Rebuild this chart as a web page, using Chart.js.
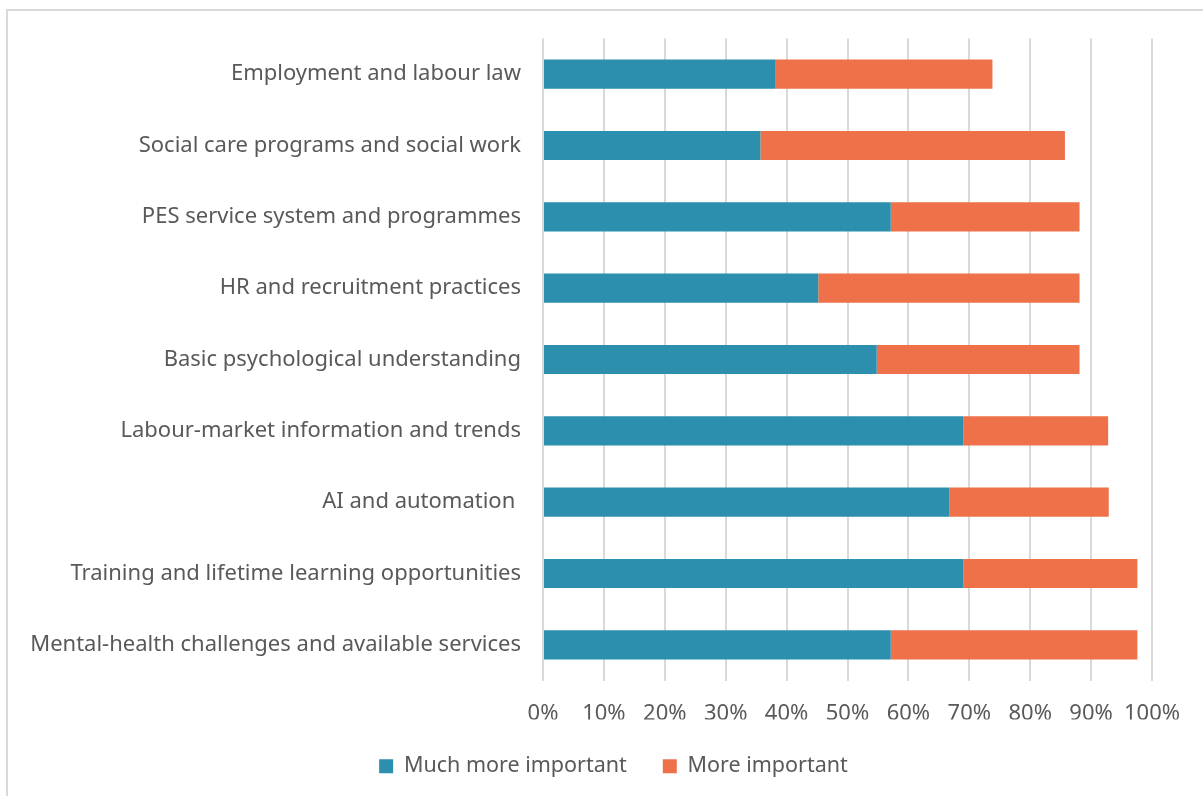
<!DOCTYPE html>
<html>
<head>
<meta charset="utf-8">
<script src="https://cdn.jsdelivr.net/npm/chart.js@4.4.1/dist/chart.umd.min.js"></script>
<style>
  html, body { margin: 0; padding: 0; background: #fff; overflow: hidden; }
  .frame {
    position: absolute; left: 6px; top: 9px;
    width: 1400px; height: 1000px;
    border: 2px solid #d9d9d9; box-sizing: border-box;
  }
  .chart-container { position: absolute; left: 0; top: 0; width: 1203px; height: 796px; }
</style>
</head>
<body>
<div class="frame"></div>
<div class="chart-container"><canvas id="chart" width="1203" height="796"></canvas></div>
<script>
const categories = [
  'Employment and labour law',
  'Social care programs and social work',
  'PES service system and programmes',
  'HR and recruitment practices',
  'Basic psychological understanding',
  'Labour-market information and trends',
  'AI and automation ',
  'Training and lifetime learning opportunities',
  'Mental-health challenges and available services'
];
// share of respondents, percent
const muchMoreImportant = [38.1, 35.7, 57.1, 45.2, 54.8, 69.0, 66.7, 69.0, 57.1];
const moreImportant = [35.7, 50.0, 31.0, 42.9, 33.3, 23.8, 26.2, 28.6, 40.5];
const xTicks = [0, 10, 20, 30, 40, 50, 60, 70, 80, 90, 100];

const textColor = '#595959';
const fontFamily = '"Noto Sans", "Open Sans", sans-serif';
const axisLeft = 543;

// legend is centred under the whole frame, not only the plot column
const legendShift = {
  id: 'legendShift',
  afterLayout(chart) {
    if (chart.legend) chart.legend.left = 75;
  }
};

new Chart(document.getElementById('chart'), {
  type: 'bar',
  data: {
    labels: categories,
    datasets: [
      {
        label: 'Much more important',
        data: muchMoreImportant,
        backgroundColor: '#2b8fad',
        barPercentage: 0.41,
        categoryPercentage: 1
      },
      {
        label: 'More important',
        data: moreImportant,
        backgroundColor: '#ee714a',
        barPercentage: 0.41,
        categoryPercentage: 1
      }
    ]
  },
  plugins: [legendShift],
  options: {
    indexAxis: 'y',
    responsive: false,
    animation: false,
    layout: { padding: { left: 0, right: 51, top: 38.5, bottom: 9 } },
    plugins: {
      tooltip: { enabled: false },
      legend: {
        position: 'bottom',
        labels: {
          boxWidth: 14,
          boxHeight: 14,
          padding: 36,
          color: textColor,
          font: { family: fontFamily, size: 21.5 }
        }
      }
    },
    scales: {
      x: {
        stacked: true,
        min: 0,
        max: 100,
        afterBuildTicks: (scale) => { scale.ticks = xTicks.map(v => ({ value: v })); },
        afterFit: (scale) => { scale.height = 39; },
        ticks: {
          color: textColor,
          padding: 20,
          maxRotation: 0,
          font: { family: fontFamily, size: 22 },
          callback: (v) => v + '%'
        },
        grid: { color: '#d9d9d9', lineWidth: 2, drawTicks: false },
        border: { display: false }
      },
      y: {
        stacked: true,
        afterFit: (scale) => { scale.width = axisLeft; },
        ticks: {
          color: textColor,
          padding: 22,
          font: { family: fontFamily, size: 22 }
        },
        grid: { display: false, drawTicks: false },
        border: { display: false }
      }
    }
  }
});
</script>
</body>
</html>
